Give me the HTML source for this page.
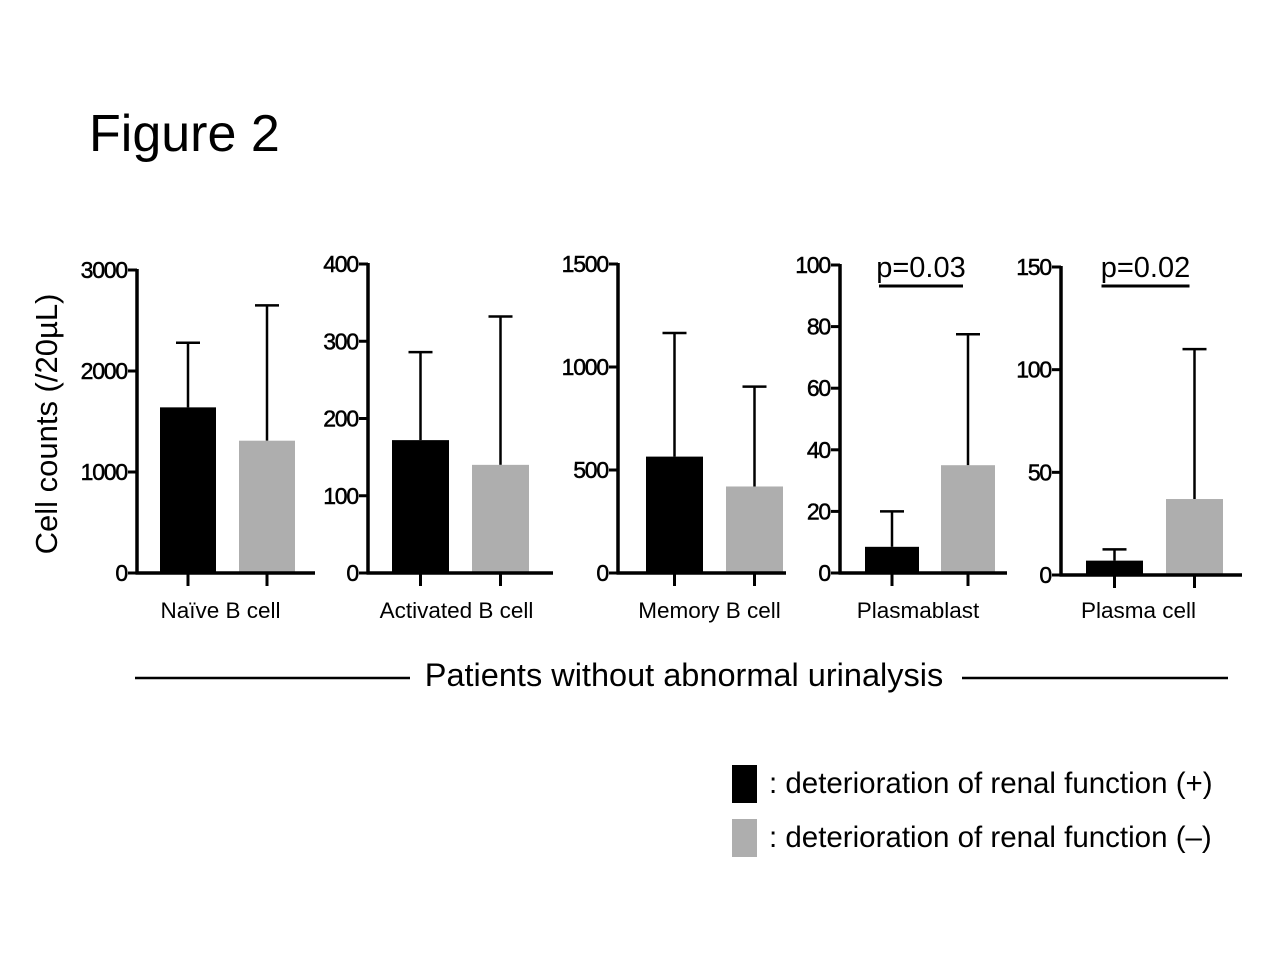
<!DOCTYPE html>
<html><head><meta charset="utf-8"><style>
html,body{margin:0;padding:0;background:#fff;width:1280px;height:960px;overflow:hidden}
svg{display:block;font-family:"Liberation Sans",Arial,sans-serif}
</style></head><body>
<svg id="fig" width="1280" height="960" viewBox="0 0 1280 960">
<text x="89" y="151" font-size="52">Figure 2</text>
<text transform="translate(57,424) rotate(-90)" text-anchor="middle" font-size="31">Cell counts (/20µL)</text>
<g id="panels"></g>
<line x1="135" y1="678" x2="410" y2="678" stroke="#000" stroke-width="2.5"/>
<line x1="962" y1="678" x2="1228" y2="678" stroke="#000" stroke-width="2.5"/>
<text x="684" y="686" text-anchor="middle" font-size="32.5">Patients without abnormal urinalysis</text>
<rect x="732" y="765" width="25" height="38" fill="#000"/>
<text x="769" y="793" font-size="29.5">: deterioration of renal function (+)</text>
<rect x="732" y="819" width="25" height="38" fill="#aeaeae"/>
<text x="769" y="847" font-size="29.5">: deterioration of renal function (–)</text>
</svg>
<script>
const categories = ["Naïve B cell","Activated B cell","Memory B cell","Plasmablast","Plasma cell"];
const plusMeans = [1640, 172, 565, 8.5, 7];
const plusErrTop = [2280, 286, 1165, 20, 12.5];
const minusMeans = [1310, 140, 420, 35, 37];
const minusErrTop = [2650, 332, 905, 77.5, 110];
const yMax = [3000, 400, 1500, 100, 150];
const tickLabels = [[0,1000,2000,3000],[0,100,200,300,400],[0,500,1000,1500],[0,20,40,60,80,100],[0,50,100,150]];
const pValues = [null, null, null, "p=0.03", "p=0.02"];

const layout = [
  {ax:137, top:270, bot:573, xend:315, b1:160, b2:239, bw:56, lx:-7},
  {ax:368, top:264, bot:573, xend:553, b1:392, b2:472, bw:57, lx:-4},
  {ax:618, top:264, bot:573, xend:786, b1:646, b2:726, bw:57, lx:-5},
  {ax:840, top:265, bot:573, xend:1007, b1:865, b2:941, bw:54, lx:-12},
  {ax:1061, top:267, bot:575, xend:1242, b1:1086, b2:1166, bw:57, lx:-16}
];
const NS = "http://www.w3.org/2000/svg";
const root = document.getElementById("panels");
function mk(tag, attrs, parent){const e=document.createElementNS(NS,tag);for(const k in attrs)e.setAttribute(k,attrs[k]);parent.appendChild(e);return e;}
categories.forEach((cat,i)=>{
  const L = layout[i];
  const y = v => L.bot - (v / yMax[i]) * (L.bot - L.top);
  const g = mk("g",{},root);
  
  
  [[plusMeans, plusErrTop, L.b1, "#000", "plus"], [minusMeans, minusErrTop, L.b2, "#aeaeae", "minus"]].forEach(([m, e, bx, col, nm])=>{
    const cx = bx + L.bw/2;
    const el = mk("line",{x1:cx,x2:cx,y1:y(m[i]),y2:y(e[i]),stroke:"#000","stroke-width":2.5},g);
    
    
    const cap = mk("line",{x1:cx-12,x2:cx+12,y1:y(e[i]),y2:y(e[i]),stroke:"#000","stroke-width":2.5},g);
    
    
    const r = mk("rect",{x:bx,y:y(m[i]),width:L.bw,height:L.bot-y(m[i]),fill:col},g);
    
    
    const t = mk("line",{x1:cx,x2:cx,y1:L.bot,y2:L.bot+13,stroke:"#000","stroke-width":3},g);
    
    
  });
  const ya = mk("line",{x1:L.ax,x2:L.ax,y1:L.top-1,y2:L.bot+1.5,stroke:"#000","stroke-width":3.5},g);
  
  
  const xa = mk("line",{x1:L.ax-1.5,x2:L.xend,y1:L.bot,y2:L.bot,stroke:"#000","stroke-width":3.5},g);
  
  
  tickLabels[i].forEach(v=>{
    const tk = mk("line",{x1:L.ax-9,x2:L.ax,y1:y(v),y2:y(v),stroke:"#000","stroke-width":3},g);
    
    
    const tl = mk("text",{x:L.ax-10,y:y(v)+8,"text-anchor":"end","font-size":23,"letter-spacing":"-1.2",stroke:"#000","stroke-width":0.5},g);
    tl.textContent = v;
    
    
  });
  const cl = mk("text",{x:(L.b1+L.b2+L.bw)/2 + L.lx,y:618,"text-anchor":"middle","font-size":22.5},g);
  cl.textContent = cat;
  
  
  if(pValues[i]){
    const c1 = L.b1 + L.bw/2, c2 = L.b2 + L.bw/2;
    const x1 = c1-13, x2 = c2-5;
    const pl = mk("line",{x1:x1,x2:x2,y1:286,y2:286,stroke:"#000","stroke-width":3},g);
    
    
    const pt = mk("text",{x:(x1+x2)/2,y:277,"text-anchor":"middle","font-size":29},g);
    pt.textContent = pValues[i];
    
    
  }
});
</script>
</body></html>
